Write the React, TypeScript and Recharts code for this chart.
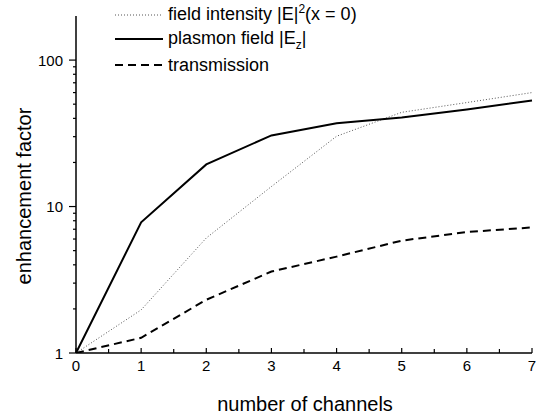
import { LineChart, Line, XAxis, YAxis, Legend } from 'recharts'

const channels = [0, 1, 2, 3, 4, 5, 6, 7]
const fieldIntensity = [1, 1.97, 6.1, 13.7, 30.2, 44, 51.3, 60]
const plasmonField = [1, 7.8, 19.4, 30.6, 37, 40.5, 46, 53]
const transmission = [1, 1.27, 2.31, 3.6, 4.55, 5.85, 6.7, 7.2]

const xTicks = [0, 0.5, 1, 1.5, 2, 2.5, 3, 3.5, 4, 4.5, 5, 5.5, 6, 6.5, 7]
const yTicks = [1, 2, 3, 4, 5, 6, 7, 8, 9, 10, 20, 30, 40, 50, 60, 70, 80, 90, 100]
const yMajor = [1, 10, 100]

const data = channels.map((c, i) => ({
  channels: c,
  field: fieldIntensity[i],
  plasmon: plasmonField[i],
  trans: transmission[i],
}))

const FONT = '"Liberation Sans", Arial, sans-serif'

const XTick = (props: any) => {
  const { x, y, payload } = props
  const v = payload.value
  const isInt = Number.isInteger(v)
  return (
    <g>
      <line x1={x} x2={x} y1={y} y2={y - (isInt ? 5 : 4)} stroke="#000" strokeWidth={1.2} />
      {isInt && (
        <text x={x} y={y + 18} textAnchor="middle" fontSize={15} fontFamily={FONT} fill="#000">
          {v}
        </text>
      )}
    </g>
  )
}

const YTick = (props: any) => {
  const { x, y, payload } = props
  const v = payload.value
  const major = yMajor.includes(v)
  return (
    <g>
      <line x1={x - (major ? 7 : 3)} x2={x} y1={y} y2={y} stroke="#000" strokeWidth={1.2} />
      {major && (
        <text x={x - 13} y={y + 5.5} textAnchor="end" fontSize={15} fontFamily={FONT} fill="#000">
          {v}
        </text>
      )}
    </g>
  )
}

const legendRows = [
  { key: 'field', dash: '1 2', width: 1, color: '#555', h: 24 },
  { key: 'plasmon', dash: undefined, width: 2, color: '#000', h: 24 },
  { key: 'trans', dash: '8 5', width: 2, color: '#000', h: 27 },
]

const legendText = (key: string) => {
  if (key === 'field')
    return (
      <>
        field intensity |E|<span style={{ fontSize: 12, position: 'relative', top: -7 }}>2</span>(x = 0)
      </>
    )
  if (key === 'plasmon')
    return (
      <>
        plasmon field |E<span style={{ fontSize: 12, position: 'relative', top: 5 }}>z</span>|
      </>
    )
  return <>transmission</>
}

const LegendBox = () => (
  <div style={{ fontFamily: FONT, fontSize: 18, color: '#000' }}>
    {legendRows.map((r) => (
      <div key={r.key} style={{ display: 'flex', alignItems: 'center', height: r.h, lineHeight: '18px' }}>
        <svg width={48} height={10} style={{ marginRight: 5 }}>
          <line x1={0} x2={48} y1={5} y2={5} stroke={r.color} strokeWidth={r.width} strokeDasharray={r.dash} />
        </svg>
        <span style={{ whiteSpace: 'nowrap' }}>{legendText(r.key)}</span>
      </div>
    ))}
  </div>
)

export default function App() {
  return (
    <div style={{ position: 'absolute', left: 0, top: 0, width: 538, height: 415, background: '#fff' }}>
      <LineChart width={538} height={415} data={data} margin={{ top: 16, right: 6, bottom: 0, left: 0 }}>
        <XAxis
          dataKey="channels"
          type="number"
          domain={[0, 7]}
          ticks={xTicks}
          interval={0}
          height={62}
          tickSize={0}
          tickMargin={0}
          tickLine={false}
          axisLine={{ stroke: '#000', strokeWidth: 1.5 }}
          tick={<XTick />}
          label={() => (
            <text x={305} y={411} textAnchor="middle" fontSize={20} fontFamily={FONT} fill="#000">
              number of channels
            </text>
          )}
        />
        <YAxis
          type="number"
          scale="log"
          domain={[1, 200]}
          allowDataOverflow
          ticks={yTicks}
          interval={0}
          width={76}
          tickSize={0}
          tickMargin={0}
          tickLine={false}
          axisLine={{ stroke: '#000', strokeWidth: 1.5 }}
          tick={<YTick />}
          label={() => (
            <text
              x={31}
              y={196}
              transform="rotate(-90 31 196)"
              textAnchor="middle"
              fontSize={20}
              fontFamily={FONT}
              fill="#000"
            >
              enhancement factor
            </text>
          )}
        />
        <Legend
          layout="vertical"
          align="center"
          verticalAlign="middle"
          wrapperStyle={{ top: 3, left: 115, width: 'auto' }}
          content={() => <LegendBox />}
        />
        <Line
          dataKey="field"
          type="linear"
          stroke="#555"
          strokeWidth={1}
          strokeDasharray="1 2"
          dot={false}
          isAnimationActive={false}
        />
        <Line dataKey="plasmon" type="linear" stroke="#000" strokeWidth={2} dot={false} isAnimationActive={false} />
        <Line
          dataKey="trans"
          type="linear"
          stroke="#000"
          strokeWidth={2}
          strokeDasharray="8 5"
          dot={false}
          isAnimationActive={false}
        />
      </LineChart>
    </div>
  )
}
